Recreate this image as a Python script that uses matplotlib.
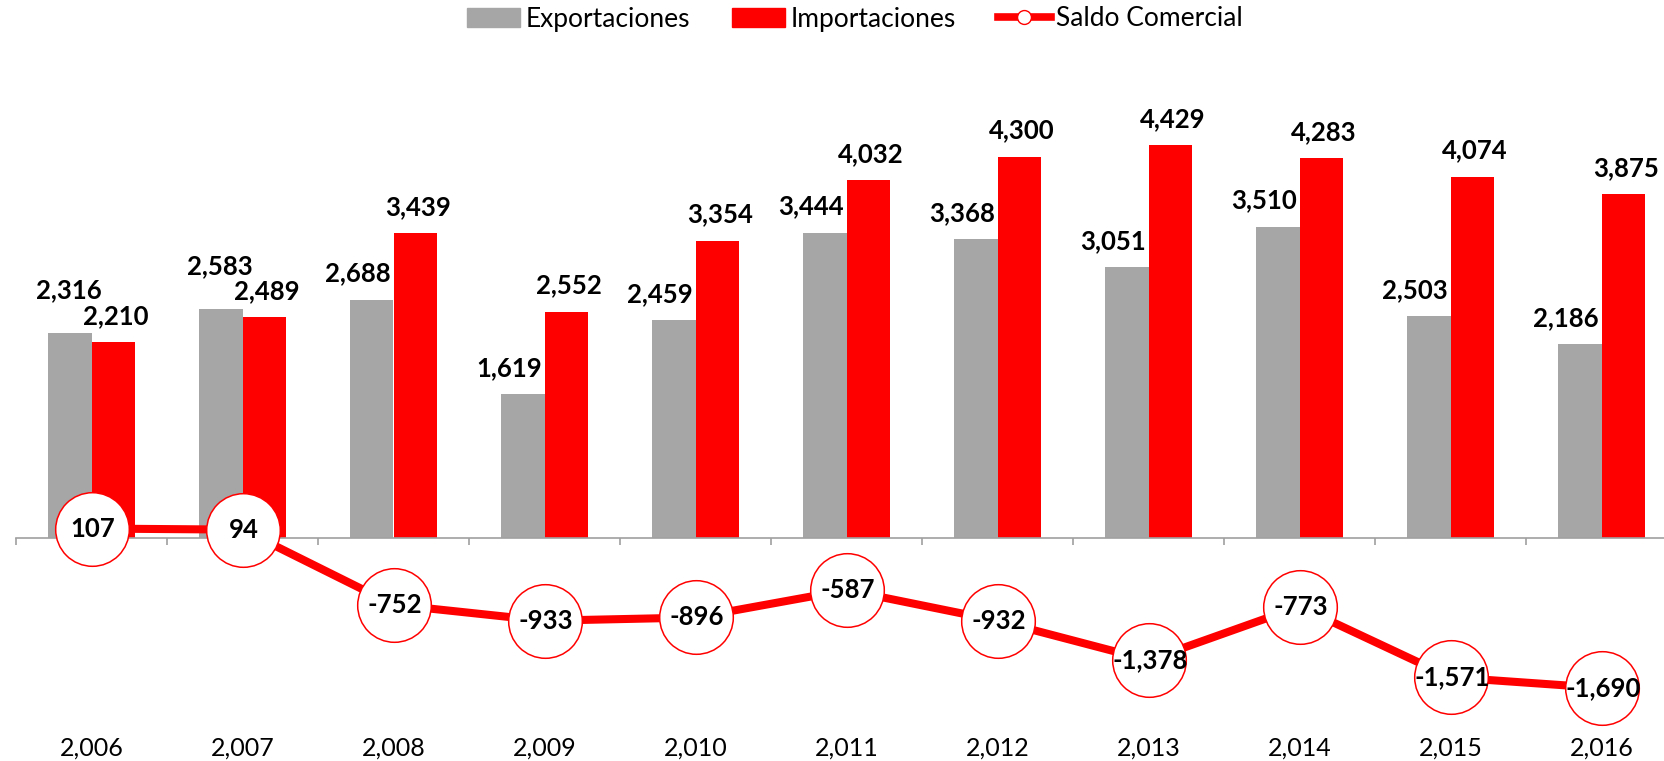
import numpy as np
import matplotlib.pyplot as plt
from matplotlib.patches import Patch
from matplotlib.lines import Line2D

plt.rcParams['font.family'] = ['Lato', 'DejaVu Sans']

# datos (millones)
anios = ["2,006", "2,007", "2,008", "2,009", "2,010", "2,011", "2,012", "2,013", "2,014", "2,015", "2,016"]
exportaciones = [2316, 2583, 2688, 1619, 2459, 3444, 3368, 3051, 3510, 2503, 2186]
importaciones = [2210, 2489, 3439, 2552, 3354, 4032, 4300, 4429, 4283, 4074, 3875]
saldo = [107, 94, -752, -933, -896, -587, -932, -1378, -773, -1571, -1690]

gris = "#A6A6A6"
rojo = "#FF0000"

W, H = 1664, 761
fig = plt.figure(figsize=(W / 100, H / 100), dpi=100)
ax = fig.add_axes([16 / W, 0, 1661 / W, 1])

x = np.arange(len(anios))
ancho = 0.285
ax.bar(x - ancho / 2, exportaciones, ancho, color=gris, zorder=2)
ax.bar(x + ancho / 2, importaciones, ancho, color=rojo, zorder=2)
ax.plot(x, saldo, color=rojo, linewidth=5.8, marker="o", markersize=53,
        markerfacecolor="white", markeredgecolor=rojo, markeredgewidth=1.1, zorder=4)

fmt = lambda v: f"{v:,}"
etq = dict(fontsize=18.5, fontweight="bold", textcoords="offset points", va="baseline", zorder=5)
for xi, e, i in zip(x, exportaciones, importaciones):
    if e >= i:
        # etiqueta centrada y elevada para no chocar con la roja
        ax.annotate(fmt(e), (xi - ancho / 2, e), xytext=(-1, 25), ha="center", **etq)
    else:
        # alineada a la derecha, junto a la barra roja
        ax.annotate(fmt(e), (xi, e), xytext=(-2, 13), ha="right", **etq)
for xi, v in zip(x, importaciones):
    ax.annotate(fmt(v), (xi + ancho / 2, v), xytext=(2, 13), ha="center", **etq)
for xi, v in zip(x, saldo):
    ax.annotate(fmt(v), (xi, v), xytext=(1, 0), textcoords="offset points",
                ha="center", va="center", fontsize=18.5, fontweight="bold", zorder=6)

# eje
ax.set_xlim(-0.5, len(anios) - 0.5)
ax.set_ylim(-(H - 538) / 0.0887, 538 / 0.0887)
for s in ["top", "left", "right"]:
    ax.spines[s].set_visible(False)
ax.spines["bottom"].set_position(("data", 0))
ax.spines["bottom"].set_color("#A0A0A0")
ax.spines["bottom"].set_linewidth(1.2)
ax.spines["bottom"].set_zorder(3)
ax.set_xticks(np.arange(-0.5, len(anios), 1))
ax.set_xticklabels([])
ax.tick_params(axis="x", direction="out", length=5, color="#A0A0A0", width=1.2)
ax.set_yticks([])
for xi, a in zip(x, anios):
    ax.text(xi, -(748 - 538) / 0.0887, a, ha="center", va="center", fontsize=18)

handles = [Patch(color=gris), Patch(color=rojo),
           Line2D([], [], color=rojo, linewidth=5.5, marker="o", markersize=10,
                  markerfacecolor="white", markeredgecolor=rojo)]
fig.legend(handles, ["Exportaciones", "Importaciones", "Saldo Comercial"], ncol=3,
           loc="center", bbox_to_anchor=(855 / W, 1 - 19 / H), frameon=False,
           fontsize=19, handlelength=2.0, handleheight=0.75, handletextpad=0.2,
           columnspacing=1.6)

plt.savefig("out.png", dpi=100)
